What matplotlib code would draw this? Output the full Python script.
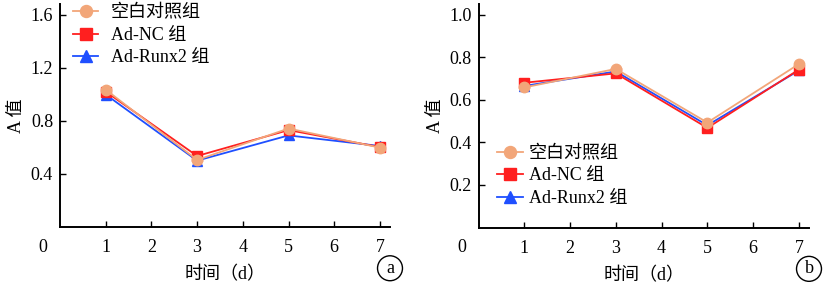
import matplotlib
matplotlib.use("Agg")
from matplotlib import pyplot as plt

plt.rcParams['font.family'] = ['Liberation Serif', 'Noto Sans CJK SC']

days = [1, 3, 5, 7]
labels = ['空白对照组', 'Ad-NC 组', 'Ad-Runx2 组']

# panel a
a_blank = [1.035, 0.505, 0.742, 0.598]
a_nc = [1.02, 0.535, 0.73, 0.602]
a_runx2 = [0.998, 0.50, 0.69, 0.61]

# panel b
b_blank = [0.658, 0.745, 0.493, 0.768]
b_nc = [0.68, 0.724, 0.468, 0.742]
b_runx2 = [0.665, 0.733, 0.48, 0.738]

colors = ['#F2A679', '#FF1F1F', '#1F4FFF']
markers = ['o', 's', '^']
zorders = [3, 2, 1]

fs = 13
fig = plt.figure(figsize=(8.23, 2.85), dpi=100)
ax1 = fig.add_axes([60 / 823, 1 - 227 / 285, 330 / 823, 223 / 285])
ax2 = fig.add_axes([478.5 / 823, 1 - 227.5 / 285, 330.5 / 823, 223.5 / 285])


def draw(ax, series, ylim, yticks, legend_loc, legend_anchor, textpad, tag):
    for vals, lab, c, m, z in zip(series, labels, colors, markers, zorders):
        # blue drawn first so the orange circles stay on top
        ax.plot(days, vals, color=c, marker=m, markersize=7.5, linewidth=1.3,
                label=lab, zorder=z)
    ax.set_xlim(0, 7.22)
    ax.set_ylim(*ylim)
    ax.set_xticks([1, 2, 3, 4, 5, 6, 7])
    ax.set_yticks(yticks)
    ax.set_yticklabels(['%.1f' % t for t in yticks])
    ax.tick_params(axis='y', direction='in', length=4, width=1, labelsize=fs, pad=5)
    ax.tick_params(axis='x', direction='in', length=4, width=1, labelsize=fs, pad=9)
    ax.spines['top'].set_visible(False)
    ax.spines['right'].set_visible(False)
    for s in ['left', 'bottom']:
        ax.spines[s].set_linewidth(1.4)
    ax.text(-0.052, -0.09, '0', transform=ax.transAxes, fontsize=fs,
            ha='center', va='center')
    ax.set_xlabel('时间（d）', fontsize=fs, labelpad=7)
    ax.set_ylabel('A 值', fontsize=fs, labelpad=4)
    ax.text(1.0, -0.185, tag, transform=ax.transAxes, fontsize=fs,
            ha='center', va='center',
            bbox=dict(boxstyle='circle,pad=0.22', fc='white', ec='black', lw=1))
    leg = ax.legend(loc=legend_loc, bbox_to_anchor=legend_anchor, frameon=False,
                    fontsize=fs, handlelength=1.4, handletextpad=textpad,
                    labelspacing=0.3, borderaxespad=0, markerscale=1.15)
    return leg


draw(ax1, [a_blank, a_nc, a_runx2], (0, 1.68), [0.4, 0.8, 1.2, 1.6],
     'upper left', (0.018, 1.03), 0.7, 'a')
draw(ax2, [b_blank, b_nc, b_runx2], (0, 1.05), [0.2, 0.4, 0.6, 0.8, 1.0],
     'lower left', (0.035, 0.06), 0.35, 'b')

fig.savefig('out.png', dpi=100)
